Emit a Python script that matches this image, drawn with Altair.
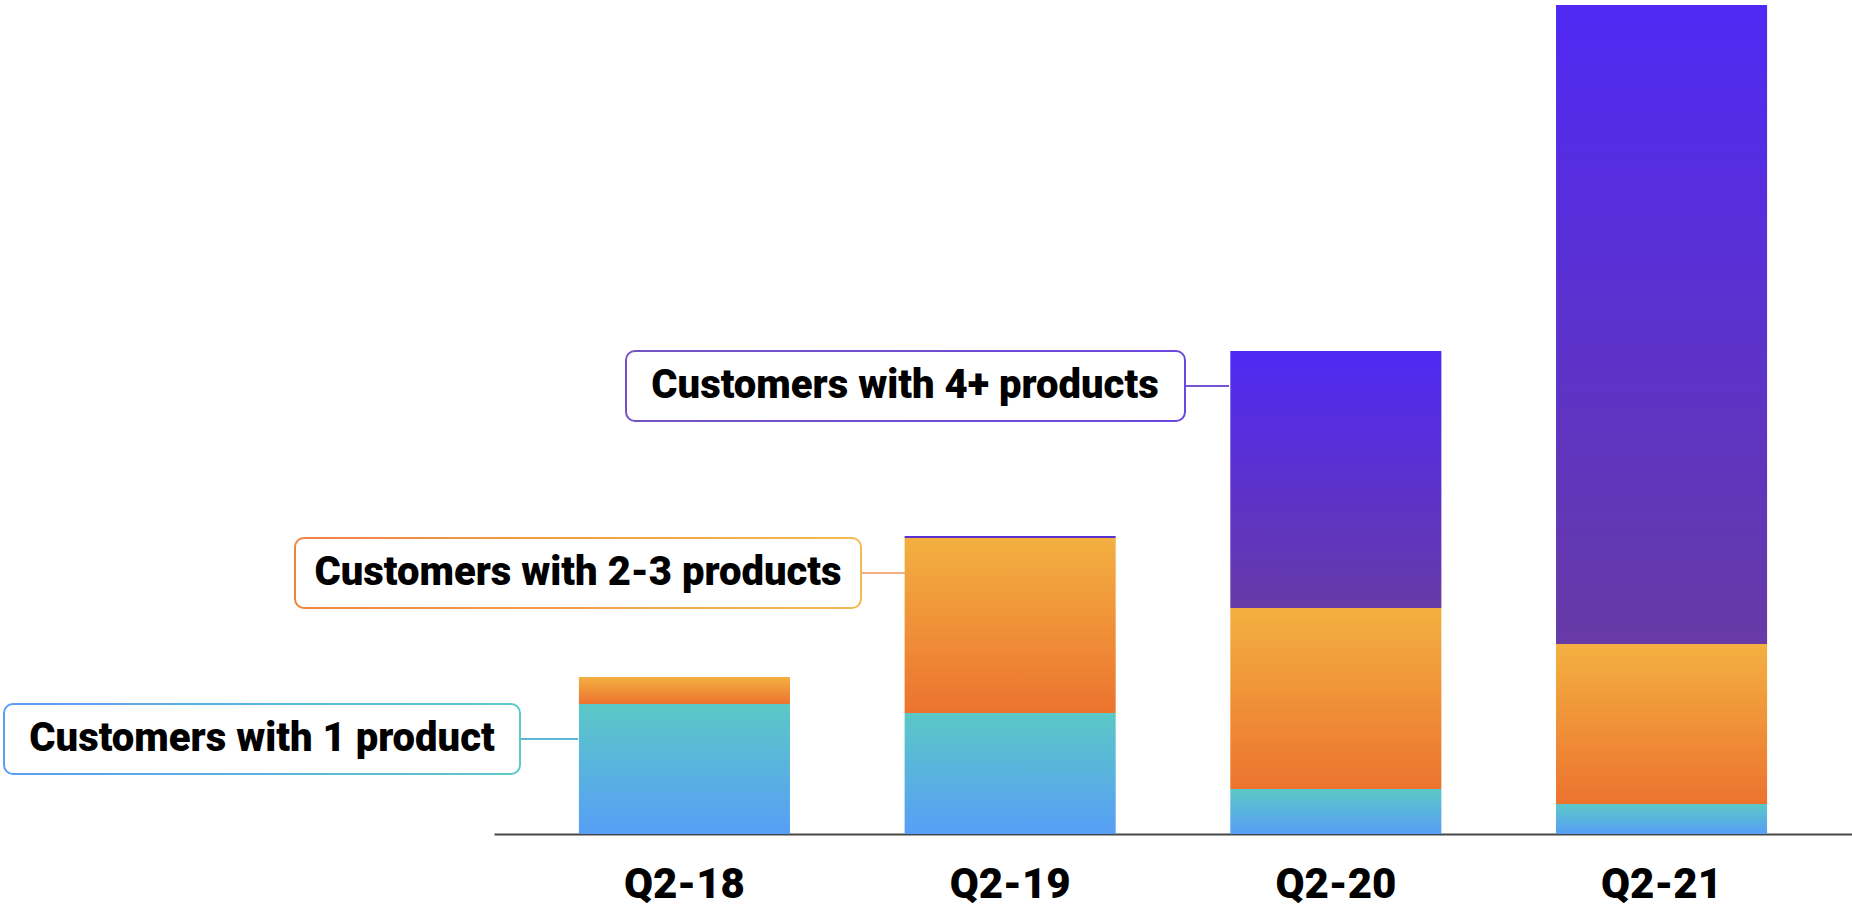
import altair as alt
import pandas as pd

# ---- data (arbitrary units) ----
quarters = ["Q2-18", "Q2-19", "Q2-20", "Q2-21"]
segments = ["1 product", "2-3 products", "4+ products"]
one_product = [130, 121, 45, 30]
two_three_products = [27, 175, 181, 160]
four_plus_products = [0, 2, 257, 639]
labels = ["Customers with 1 product", "Customers with 2-3 products", "Customers with 4+ products"]
label_anchor_quarter = ["Q2-18", "Q2-19", "Q2-20"]

rows = []
for qi, q in enumerate(quarters):
    for si, (seg, vals) in enumerate(zip(segments, [one_product, two_three_products, four_plus_products])):
        rows.append({"quarter": q, "segment": seg, "order": si, "value": vals[qi],
                     "label": labels[si], "anchor": label_anchor_quarter[si] == q})
df = pd.DataFrame(rows)

# ---- styling ----
bar_grad = {
    "1 product": ("#5bc8c6", "#579ef6"),
    "2-3 products": ("#f3b041", "#ec732f"),
    "4+ products": ("#5029f4", "#673aa6"),
}
box_grad = {
    "1 product": ("#5a9ef5", "#5ccac6"),
    "2-3 products": ("#ef8440", "#f2bb52"),
    "4+ products": ("#7454c4", "#6a48e0"),
}
conn_color = {"1 product": "#5cb6d6", "2-3 products": "#f1ae80", "4+ products": "#7656d4"}
# pixel layout of annotation boxes relative to plot origin: (x, x2, text center, connector end)
box_layout = {
    "1 product": (-490, 26, -232, 84),
    "2-3 products": (-199, 367, 84, 411),
    "4+ products": (132, 691, 411, 735),
}

FONT = "Roboto"
Y_MAX = 829
BOX_H = 70

base = alt.Chart(df).transform_stack(
    stack="value", groupby=["quarter"], as_=["y0", "y1"],
    sort=[alt.SortField("order", "ascending")],
)

x_enc = alt.X(
    "quarter:N", sort=quarters,
    scale=alt.Scale(paddingInner=0.352, paddingOuter=0.2607, align=0.5),
    axis=alt.Axis(title=None, labelAngle=0, ticks=False, grid=False,
                  labelFont=FONT, labelFontWeight=900, labelFontSize=42,
                  labelColor="#000000", labelPadding=30,
                  domainColor="#474747", domainWidth=2),
)
y_scale = alt.Scale(domain=[0, Y_MAX], nice=False, zero=True)


def vgrad(top, bottom):
    return alt.Gradient(gradient="linear", x1=0, x2=0, y1=0, y2=1,
                        stops=[alt.GradientStop(color=top, offset=0),
                               alt.GradientStop(color=bottom, offset=1)])


def hgrad(left, right):
    return alt.Gradient(gradient="linear", x1=0, x2=1, y1=0, y2=0,
                        stops=[alt.GradientStop(color=left, offset=0),
                               alt.GradientStop(color=right, offset=1)])


layers = []
for seg in segments:
    top, bottom = bar_grad[seg]
    layers.append(
        base.transform_filter(alt.datum.segment == seg)
        .mark_bar(fill=vgrad(top, bottom), strokeWidth=0)
        .encode(x=x_enc,
                y=alt.Y("y0:Q", scale=y_scale, axis=None),
                y2="y1:Q")
    )

for seg in segments:
    bx, bx2, tx, cx2 = box_layout[seg]
    ann = base.transform_filter((alt.datum.segment == seg) & (alt.datum.anchor == True))
    layers.append(
        ann.mark_rule(color=conn_color[seg], strokeWidth=2, yOffset=BOX_H / 2)
        .encode(x=alt.value(bx2), x2=alt.value(cx2),
                y=alt.Y("y1:Q", scale=y_scale, axis=None))
    )
    layers.append(
        ann.mark_rect(fill="#ffffff", stroke=hgrad(*box_grad[seg]), strokeWidth=2,
                      cornerRadius=9, height=BOX_H, yOffset=BOX_H / 2)
        .encode(x=alt.value(bx), x2=alt.value(bx2),
                y=alt.Y("y1:Q", scale=y_scale, axis=None))
    )
    layers.append(
        ann.mark_text(font=FONT, fontWeight=900, fontSize=40, color="#000000",
                      align="center", baseline="middle", yOffset=BOX_H / 2)
        .encode(x=alt.value(tx), y=alt.Y("y1:Q", scale=y_scale, axis=None),
                text="label:N")
    )

chart = alt.layer(*layers).properties(
    width=1358, height=Y_MAX,
    autosize=alt.AutoSizeParams(type="none"),
    padding={"left": 494, "top": 5, "right": 0, "bottom": 74},
    background="#ffffff",
).configure_view(stroke=None)

chart.save("out.html", embed_options={"renderer": "svg", "actions": False})
